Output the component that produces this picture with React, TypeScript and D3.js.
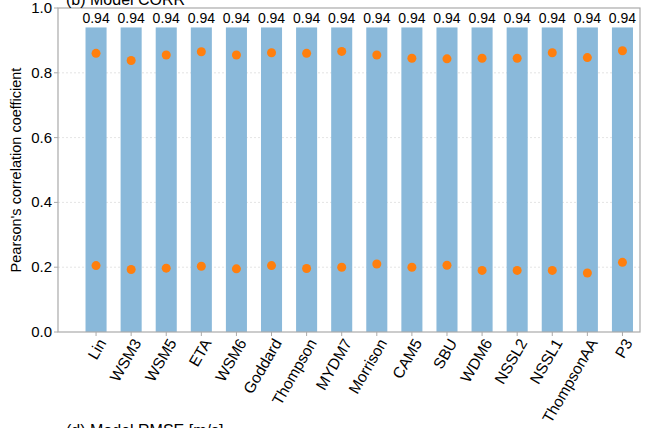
import React, { useEffect, useRef } from 'react';
import * as d3 from 'd3';

const models = ['Lin', 'WSM3', 'WSM5', 'ETA', 'WSM6', 'Goddard', 'Thompson', 'MYDM7', 'Morrison', 'CAM5', 'SBU', 'WDM6', 'NSSL2', 'NSSL1', 'ThompsonAA', 'P3'];
const barValues = [0.94, 0.94, 0.94, 0.94, 0.94, 0.94, 0.94, 0.94, 0.94, 0.94, 0.94, 0.94, 0.94, 0.94, 0.94, 0.94];
const highDots = [0.86, 0.838, 0.855, 0.865, 0.855, 0.862, 0.86, 0.866, 0.855, 0.845, 0.843, 0.845, 0.845, 0.862, 0.847, 0.868];
const lowDots = [0.205, 0.193, 0.197, 0.203, 0.195, 0.205, 0.196, 0.2, 0.21, 0.2, 0.206, 0.19, 0.19, 0.19, 0.182, 0.215];
const yTicks = [0, 0.2, 0.4, 0.6, 0.8, 1.0];

const App: React.FC = () => {
  const svgRef = useRef<SVGSVGElement>(null);

  useEffect(() => {
    if (!svgRef.current) return;
    const svg = d3.select(svgRef.current);
    svg.selectAll('*').remove();
    const font = 'Liberation Sans, Arial, sans-serif';
    const left = 58, right = 640, top = 8, bottom = 332;

    const x = d3.scaleBand<string>().domain(models).range([78.5, right]).paddingInner(0.4).paddingOuter(0.2);
    const y = d3.scaleLinear().domain([0, 1]).range([bottom, top]);

    // grid
    svg.append('g').selectAll('line').data(yTicks.slice(1, -1)).join('line')
      .attr('x1', left).attr('x2', right).attr('y1', d => y(d)).attr('y2', d => y(d))
      .attr('stroke', '#ddd').attr('stroke-dasharray', '2,2').attr('stroke-width', 0.8);

    // bars
    svg.append('g').selectAll('rect').data(barValues).join('rect')
      .attr('x', (_, i) => x(models[i])!).attr('width', x.bandwidth())
      .attr('y', d => y(d)).attr('height', d => bottom - y(d))
      .attr('fill', '#8ab9da');

    svg.append('g').selectAll('text').data(barValues).join('text')
      .attr('x', (_, i) => x(models[i])! + x.bandwidth() / 2).attr('y', d => y(d) - 4)
      .attr('text-anchor', 'middle').attr('font-family', font).attr('font-size', 14)
      .text(d => d.toFixed(2));

    [highDots, lowDots].forEach(vals => {
      svg.append('g').selectAll('circle').data(vals).join('circle')
        .attr('cx', (_, i) => x(models[i])! + x.bandwidth() / 2).attr('cy', d => y(d))
        .attr('r', 4.5).attr('fill', '#ff7f0e');
    });

    // frame
    svg.append('rect').attr('x', left).attr('y', top).attr('width', right - left).attr('height', bottom - top)
      .attr('fill', 'none').attr('stroke', '#aaa').attr('stroke-width', 1.2);

    // y ticks
    const yt = svg.append('g');
    yt.selectAll('line').data(yTicks).join('line')
      .attr('x1', left - 4).attr('x2', left).attr('y1', d => y(d)).attr('y2', d => y(d)).attr('stroke', '#aaa');
    yt.selectAll('text').data(yTicks).join('text')
      .attr('x', left - 6).attr('y', d => y(d) + 5).attr('text-anchor', 'end')
      .attr('font-family', font).attr('font-size', 15).text(d => d.toFixed(1));

    // x ticks
    const xt = svg.append('g');
    xt.selectAll('line').data(models).join('line')
      .attr('x1', d => x(d)! + x.bandwidth() / 2).attr('x2', d => x(d)! + x.bandwidth() / 2)
      .attr('y1', bottom).attr('y2', bottom + 4).attr('stroke', '#aaa');
    xt.selectAll('text').data(models).join('text')
      .attr('transform', d => `translate(${x(d)! + x.bandwidth() / 2 + 6},${bottom + 8}) rotate(-60)`)
      .attr('text-anchor', 'end').attr('dy', '0.35em')
      .attr('font-family', font).attr('font-size', 15.5).text(d => d);

    svg.append('text')
      .attr('transform', `translate(21,${(top + bottom) / 2}) rotate(-90)`)
      .attr('text-anchor', 'middle').attr('font-family', font).attr('font-size', 14.5)
      .text("Pearson's correlation coefficient");

    svg.append('text').attr('x', 66).attr('y', 5).attr('font-family', font).attr('font-size', 16)
      .text('(b) Model CORR');
    svg.append('text').attr('x', 66).attr('y', 436).attr('font-family', font).attr('font-size', 16)
      .text('(d) Model RMSE [m/s]');
  }, []);

  return (
    <svg ref={svgRef} width={648} height={428}
      style={{ position: 'absolute', left: 0, top: 0, background: '#fff' }} />
  );
};

export default App;
